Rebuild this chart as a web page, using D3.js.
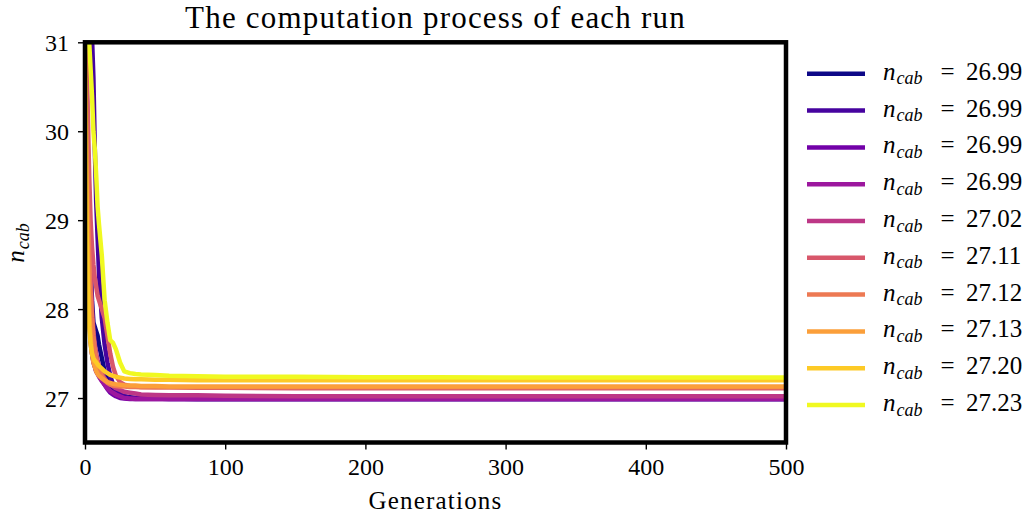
<!DOCTYPE html>
<html>
<head>
<meta charset="utf-8">
<script src="https://cdn.jsdelivr.net/npm/d3@7"></script>
<style>
  html, body { margin: 0; padding: 0; background: #fff; }
  svg { display: block; }
  text { font-family: "Liberation Serif", "Times New Roman", serif; fill: #000; }
</style>
</head>
<body>
<svg id="chart" width="1033" height="517"></svg>
<script>
// Generations at which the best n_cab of each run was recorded
const generations = [0,1,2,3,4,5,6,7,8,9,10,12,14,16,18,20,22,25,28,32,36,40,50,60,80,100,150,200,250,300,350,400,450,500];

// Best n_cab per recorded generation, one array per run
const run1 = [31.4,30.6,29.8,29.0,28.5,28.1,27.85,27.8,27.75,27.7,27.6,27.45,27.3,27.2,27.12,27.08,27.05,27.03,27.02,27.01,27.0,27.0,26.995,26.995,26.99,26.99,26.99,26.99,26.99,26.99,26.99,26.99,26.99,26.99];
const run2 = [31.8,31.5,31.3,31.2,31.1,31.05,30.6,29.8,29.2,28.8,28.4,27.9,27.6,27.4,27.25,27.15,27.1,27.05,27.02,27.0,27.0,26.995,26.995,26.99,26.99,26.99,26.99,26.99,26.99,26.99,26.99,26.99,26.99,26.99];
const run3 = [31.2,30.2,29.0,28.2,27.7,27.5,27.4,27.35,27.3,27.28,27.25,27.2,27.15,27.1,27.06,27.04,27.02,27.0,26.995,26.99,26.99,26.99,26.99,26.99,26.99,26.99,26.99,26.99,26.99,26.99,26.99,26.99,26.99,26.99];
const run4 = [30.8,29.6,28.5,28.0,27.62,27.5,27.42,27.36,27.3,27.27,27.24,27.19,27.15,27.11,27.08,27.06,27.04,27.02,27.0,26.995,26.99,26.99,26.99,26.99,26.99,26.99,26.99,26.99,26.99,26.99,26.99,26.99,26.99,26.99];
const run5 = [31.4,30.5,29.6,28.9,28.4,28.0,27.75,27.6,27.5,27.42,27.36,27.28,27.22,27.18,27.15,27.13,27.11,27.09,27.07,27.06,27.05,27.04,27.035,27.03,27.03,27.025,27.02,27.02,27.02,27.02,27.02,27.02,27.02,27.02];
const run6 = [31.6,31.0,30.2,29.5,29.0,28.7,28.5,28.35,28.25,28.15,28.1,28.0,27.9,27.7,27.5,27.35,27.25,27.18,27.15,27.135,27.13,27.125,27.12,27.12,27.115,27.115,27.11,27.11,27.11,27.11,27.11,27.11,27.11,27.11];
const run7 = [31.0,30.0,29.2,28.6,28.2,27.9,27.7,27.55,27.45,27.38,27.32,27.25,27.2,27.17,27.15,27.14,27.135,27.13,27.13,27.125,27.125,27.12,27.12,27.12,27.12,27.12,27.12,27.12,27.12,27.12,27.12,27.12,27.12,27.12];
const run8 = [30.9,29.5,28.6,28.0,27.7,27.5,27.4,27.35,27.3,27.27,27.25,27.22,27.2,27.18,27.17,27.16,27.155,27.15,27.145,27.14,27.14,27.135,27.135,27.13,27.13,27.13,27.13,27.13,27.13,27.13,27.13,27.13,27.13,27.13];
const run9 = [30.6,29.0,28.2,27.8,27.6,27.5,27.45,27.42,27.4,27.38,27.36,27.33,27.3,27.28,27.26,27.25,27.24,27.23,27.22,27.215,27.21,27.21,27.205,27.205,27.2,27.2,27.2,27.2,27.2,27.2,27.2,27.2,27.2,27.2];
const run10 = [31.3,31.2,31.1,31.0,30.7,30.4,30.0,29.8,29.5,29.15,28.95,28.6,28.1,27.85,27.65,27.62,27.55,27.4,27.3,27.28,27.27,27.265,27.26,27.25,27.245,27.24,27.24,27.235,27.235,27.23,27.23,27.23,27.23,27.23];

const runs = [run1, run2, run3, run4, run5, run6, run7, run8, run9, run10];

// Final best value of each run, shown in the legend
const finalValues = [26.99, 26.99, 26.99, 26.99, 27.02, 27.11, 27.12, 27.13, 27.20, 27.23];

const xTicks = [0, 100, 200, 300, 400, 500];
const yTicks = [27, 28, 29, 30, 31];

const titleText = "The computation process of each run";
const xLabelText = "Generations";

// ---- layout ----
const svg = d3.select("#chart");
const plot = { left: 85, right: 786, top: 42.3, bottom: 442.5 };

const x = d3.scaleLinear().domain([0, 500]).range([plot.left, plot.right]);
const y = d3.scaleLinear().domain([26.5, 31]).range([plot.bottom, plot.top]);

const color = i => d3.interpolatePlasma(i / (runs.length - 1));

// clip the curves to the axes box
svg.append("defs").append("clipPath").attr("id", "plotClip")
  .append("rect")
  .attr("x", plot.left).attr("y", plot.top)
  .attr("width", plot.right - plot.left).attr("height", plot.bottom - plot.top);

// ---- curves ----
const line = d3.line()
  .x((d, i) => x(generations[i]))
  .y(d => y(d));

const curves = svg.append("g").attr("clip-path", "url(#plotClip)");
runs.forEach((vals, i) => {
  // the last recorded point is the run's final value
  const series = vals.slice(0, -1).concat([finalValues[i]]);
  curves.append("path")
    .datum(series)
    .attr("d", line)
    .attr("fill", "none")
    .attr("stroke", color(i))
    .attr("stroke-width", 4.5)
    .attr("stroke-linejoin", "round")
    .attr("stroke-linecap", "butt");
});

// ---- axes ----
const xAxis = svg.append("g")
  .attr("transform", `translate(0,${plot.bottom})`)
  .call(d3.axisBottom(x).tickValues(xTicks).tickSize(7).tickPadding(7).tickFormat(d3.format("d")));
const yAxis = svg.append("g")
  .attr("transform", `translate(${plot.left},0)`)
  .call(d3.axisLeft(y).tickValues(yTicks).tickSize(7).tickPadding(9).tickFormat(d3.format("d")));

[xAxis, yAxis].forEach(g => {
  g.select(".domain").remove();
  g.selectAll(".tick line").attr("stroke", "#000").attr("stroke-width", 1.4);
  g.selectAll(".tick text")
    .attr("font-family", "'Liberation Serif', serif")
    .attr("font-size", 24)
    .attr("fill", "#000");
});
xAxis.selectAll(".tick text").attr("dy", "0.78em");
yAxis.selectAll(".tick text").attr("dy", "0.34em");

// ---- thick frame ----
svg.append("rect")
  .attr("x", plot.left).attr("y", plot.top)
  .attr("width", plot.right - plot.left).attr("height", plot.bottom - plot.top)
  .attr("fill", "none")
  .attr("stroke", "#000")
  .attr("stroke-width", 4.5);

// ---- title and axis labels ----
svg.append("text")
  .attr("x", (plot.left + plot.right) / 2)
  .attr("y", 28)
  .attr("text-anchor", "middle")
  .attr("font-size", 31)
  .attr("letter-spacing", 1.2)
  .text(titleText);

svg.append("text")
  .attr("x", (plot.left + plot.right) / 2)
  .attr("y", 509)
  .attr("text-anchor", "middle")
  .attr("font-size", 25)
  .attr("letter-spacing", 1.2)
  .text(xLabelText);

// n_cab written as a math symbol: italic n with italic subscript
function mathSymbol(sel, size) {
  sel.append("tspan").attr("font-style", "italic").attr("font-size", size).text("n");
  sel.append("tspan").attr("font-style", "italic").attr("font-size", size * 0.72)
    .attr("dy", size * 0.18).attr("dx", 1).text("cab");
}

const yLabel = svg.append("text")
  .attr("transform", "translate(24,243) rotate(-90)")
  .attr("text-anchor", "middle");
mathSymbol(yLabel, 25);

// ---- legend ----
const legend = svg.append("g");
const legendTop = 73.8, legendStep = 36.8;
finalValues.forEach((v, i) => {
  const cy = legendTop + i * legendStep;
  legend.append("line")
    .attr("x1", 807).attr("x2", 865)
    .attr("y1", cy).attr("y2", cy)
    .attr("stroke", color(i))
    .attr("stroke-width", 4.5);
  const sym = legend.append("text").attr("x", 883).attr("y", cy + 6);
  mathSymbol(sym, 25);
  legend.append("text")
    .attr("x", 947.5).attr("y", cy + 6)
    .attr("text-anchor", "middle")
    .attr("font-size", 25)
    .text("=");
  legend.append("text")
    .attr("x", 966).attr("y", cy + 6)
    .attr("font-size", 25)
    .text(v.toFixed(2));
});
</script>
</body>
</html>
